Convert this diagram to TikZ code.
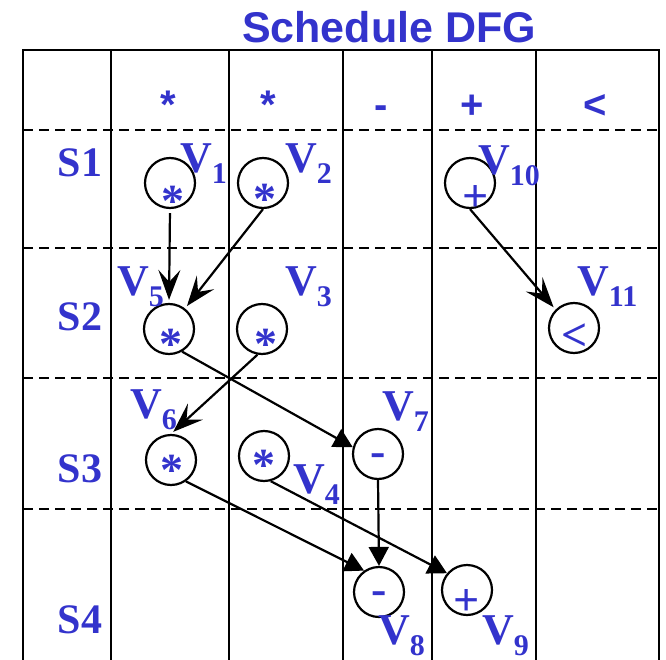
\documentclass[tikz,border=0pt]{standalone}
\usepackage{fontspec}
\setmainfont{Liberation Serif}
\newfontfamily\hvfont{Liberation Sans}
\usetikzlibrary{arrows.meta}
\definecolor{dfgblue}{RGB}{51,51,204}
\newcommand{\vsub}[1]{\raisebox{-11pt}{\fontsize{30}{30}\selectfont #1}}

\begin{document}
\begin{tikzpicture}[x=1pt,y=-1pt,
  grid/.style={line width=2.6pt},
  rowline/.style={line width=2pt,dash pattern=on 10pt off 6pt},
  vtx/.style={circle,draw,line width=2.2pt,minimum size=50pt,inner sep=0pt},
  opsym/.style={text=dfgblue,font={\bfseries\fontsize{46}{46}\selectfont},inner sep=0pt,anchor=base},
  colsym/.style={text=dfgblue,font={\hvfont\bfseries\fontsize{40}{40}\selectfont},inner sep=0pt,anchor=base},
  vname/.style={text=dfgblue,font={\bfseries\fontsize{44}{44}\selectfont},inner sep=0pt,anchor=base west},
  stepname/.style={text=dfgblue,font={\bfseries\fontsize{42}{42}\selectfont},inner sep=0pt,anchor=base},
  barb/.style={line width=2.2pt,shorten >=3pt,-{Stealth[length=30pt,width=22pt,inset=12pt]}},
  tri/.style={line width=2.2pt,-{Triangle[length=19pt,width=20pt]}}]
\useasboundingbox (0,0) rectangle (666,660);
\node[text=dfgblue,font={\hvfont\bfseries\fontsize{43}{43}\selectfont},inner sep=0pt,anchor=base] (title) at (389,43) {Schedule DFG};
\draw[grid] (23,660) -- (23,50) -- (659,50) -- (659,660);
\foreach \x in {111,229,343,432,536}
  \draw[grid] (\x,50) -- (\x,660);
\foreach \y in {130,248,378,509}
  \draw[rowline] (23,\y) -- (659,\y);
\node[colsym] (h1) at (168,119) {*};
\node[colsym] (h2) at (268,119) {*};
\node[colsym] (h3) at (381,119) {-};
\node[colsym] (h4) at (472,119) {+};
\node[colsym] (h5) at (595,119) {<};
\node[stepname] (s1) at (80,177) {S1};
\node[stepname] (s2) at (80,330) {S2};
\node[stepname] (s3) at (80,482) {S3};
\node[stepname] (s4) at (80,633) {S4};
\node[vtx] (v1) at (170,183) {};
\node[vtx] (v2) at (263,183) {};
\node[vtx] (v10) at (470,183) {};
\node[vtx] (v5) at (169,329) {};
\node[vtx] (v3) at (262,329) {};
\node[vtx] (v11) at (574,328) {};
\node[vtx] (v6) at (171,460) {};
\node[vtx] (v4) at (264,456) {};
\node[vtx] (v7) at (378,454) {};
\node[vtx] (v8) at (379,592) {};
\node[vtx] (v9) at (467,590) {};
\node[opsym] (o1) at (173,217) {*};
\node[opsym] (o2) at (265,215) {*};
\node[opsym] (o10) at (476,212) {+};
\node[opsym] (o5) at (171,359) {*};
\node[opsym] (o3) at (266,359) {*};
\node[opsym] (o11) at (575,350) {<};
\node[opsym] (o6) at (172,485) {*};
\node[opsym] (o4) at (264,480) {*};
\node[opsym] (o7) at (378,466) {-};
\node[opsym] (o8) at (379,604) {-};
\node[opsym] (o9) at (467,615) {+};
\node[vname] (l1) at (180,173) {V\vsub{1}};
\node[vname] (l2) at (285,173) {V\vsub{2}};
\node[vname] (l10) at (478,175) {V\vsub{10}};
\node[vname] (l5) at (117,295) {V\vsub{5}};
\node[vname] (l3) at (285,295) {V\vsub{3}};
\node[vname] (l11) at (577,295) {V\vsub{11}};
\node[vname] (l6) at (130,418) {V\vsub{6}};
\node[vname] (l7) at (382,420) {V\vsub{7}};
\node[vname] (l4) at (293,493) {V\vsub{4}};
\node[vname] (l8) at (378,644) {V\vsub{8}};
\node[vname] (l9) at (482,644) {V\vsub{9}};
\draw[barb,shorten <=4pt] (v1.south) -- (v5.north);
\draw[barb] (v2.south) -- (v5.52);
\draw[barb] (v10.south) -- (v11.135);
\draw[barb] (v3.-100) -- (v6.north);
\draw[tri] (v5.-60) -- (v7.165);
\draw[tri] (v6.-55) -- (v8.125);
\draw[tri] (v7.south) -- (v8.north);
\draw[tri] (v4.-75) -- (v9.140);
\end{tikzpicture}
\end{document}
